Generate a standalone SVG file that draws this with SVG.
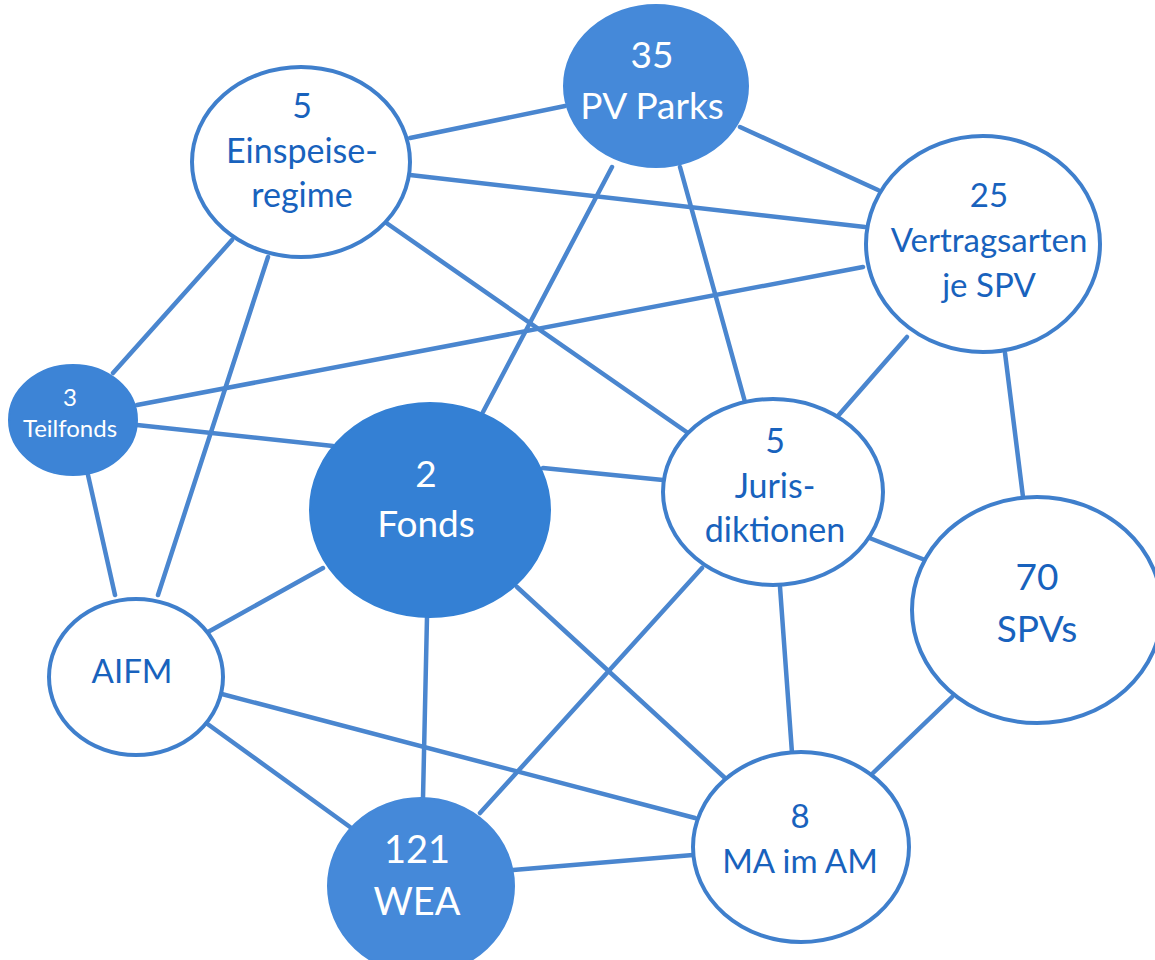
<svg xmlns="http://www.w3.org/2000/svg" width="1155" height="960" viewBox="0 0 1155 960">
<style>
.edge{stroke:#4a86cf;stroke-width:4.5;fill:none;stroke-linecap:round}
.wn{fill:#ffffff;stroke:#3f7fcc;stroke-width:4}
.bn{fill:#4589d9;stroke:#4589d9;stroke-width:2}
.t{font-family:Lato,"Liberation Sans",sans-serif;text-anchor:middle}
.tw{fill:#ffffff}
.tb{fill:#1862bd}
</style>
<rect x="0" y="0" width="1155" height="960" fill="#ffffff"/>
<g id="connectors">
<line class="edge" x1="410" y1="138" x2="565" y2="106"/>
<line class="edge" x1="410" y1="175" x2="865" y2="227"/>
<line class="edge" x1="740" y1="127" x2="878" y2="190"/>
<line class="edge" x1="385" y1="222" x2="688" y2="433"/>
<line class="edge" x1="232" y1="240" x2="113" y2="373"/>
<line class="edge" x1="268" y1="257" x2="158" y2="595"/>
<line class="edge" x1="137" y1="405" x2="863" y2="267"/>
<line class="edge" x1="137" y1="425" x2="333" y2="446"/>
<line class="edge" x1="88" y1="475" x2="115" y2="595"/>
<line class="edge" x1="612" y1="167" x2="483" y2="412"/>
<line class="edge" x1="680" y1="167" x2="745" y2="402"/>
<line class="edge" x1="907" y1="337" x2="837" y2="417"/>
<line class="edge" x1="1005" y1="353" x2="1023" y2="497"/>
<line class="edge" x1="543" y1="468" x2="663" y2="480"/>
<line class="edge" x1="323" y1="568" x2="208" y2="632"/>
<line class="edge" x1="427" y1="617" x2="423" y2="798"/>
<line class="edge" x1="517" y1="587" x2="725" y2="778"/>
<line class="edge" x1="867" y1="537" x2="925" y2="560"/>
<line class="edge" x1="702" y1="568" x2="480" y2="813"/>
<line class="edge" x1="780" y1="587" x2="792" y2="753"/>
<line class="edge" x1="952" y1="697" x2="873" y2="773"/>
<line class="edge" x1="218" y1="693" x2="695" y2="818"/>
<line class="edge" x1="202" y1="720" x2="350" y2="827"/>
<line class="edge" x1="513" y1="870" x2="693" y2="855"/>
</g>
<g id="pvparks">
<ellipse class="bn" cx="656" cy="86" rx="92" ry="81"/>
<text class="t tw" x="652" y="68" font-size="37">35</text>
<text class="t tw" x="652" y="119" font-size="37">PV Parks</text>
</g>
<g id="einspeiseregime">
<ellipse class="wn" cx="301" cy="162" rx="109" ry="95"/>
<text class="t tb" x="302" y="118" font-size="34">5</text>
<text class="t tb" x="302" y="163" font-size="34">Einspeise-</text>
<text class="t tb" x="302" y="207" font-size="34">regime</text>
</g>
<g id="vertragsarten">
<ellipse class="wn" cx="983" cy="244" rx="117" ry="108"/>
<text class="t tb" x="989" y="207" font-size="33">25</text>
<text class="t tb" x="989" y="252" font-size="33">Vertragsarten</text>
<text class="t tb" x="989" y="297" font-size="33">je SPV</text>
</g>
<g id="teilfonds">
<ellipse class="bn" cx="73" cy="420" rx="64" ry="55" style="fill:#3d84d6;stroke:#3d84d6"/>
<text class="t tw" x="70" y="406" font-size="24">3</text>
<text class="t tw" x="70" y="437" font-size="24">Teilfonds</text>
</g>
<g id="fonds">
<ellipse class="bn" cx="430" cy="510" rx="120" ry="107" style="fill:#3480d4;stroke:#3480d4"/>
<text class="t tw" x="426" y="487" font-size="37">2</text>
<text class="t tw" x="426" y="537" font-size="37">Fonds</text>
</g>
<g id="jurisdiktionen">
<ellipse class="wn" cx="773" cy="492" rx="110" ry="93"/>
<text class="t tb" x="775" y="453" font-size="34">5</text>
<text class="t tb" x="775" y="498" font-size="34">Juris-</text>
<text class="t tb" x="775" y="542" font-size="34">diktionen</text>
</g>
<g id="spvs">
<ellipse class="wn" cx="1037" cy="610" rx="125" ry="113"/>
<text class="t tb" x="1037" y="590" font-size="37">70</text>
<text class="t tb" x="1037" y="642" font-size="37">SPVs</text>
</g>
<g id="aifm">
<ellipse class="wn" cx="136" cy="677" rx="87" ry="78"/>
<text class="t tb" x="132" y="683" font-size="33">AIFM</text>
</g>
<g id="wea">
<ellipse class="bn" cx="421" cy="886" rx="93" ry="88"/>
<text class="t tw" x="417" y="863" font-size="38">121</text>
<text class="t tw" x="417" y="915" font-size="38">WEA</text>
</g>
<g id="maimam">
<ellipse class="wn" cx="801" cy="847" rx="108" ry="95"/>
<text class="t tb" x="800" y="828" font-size="33">8</text>
<text class="t tb" x="800" y="873" font-size="33">MA im AM</text>
</g>
</svg>
